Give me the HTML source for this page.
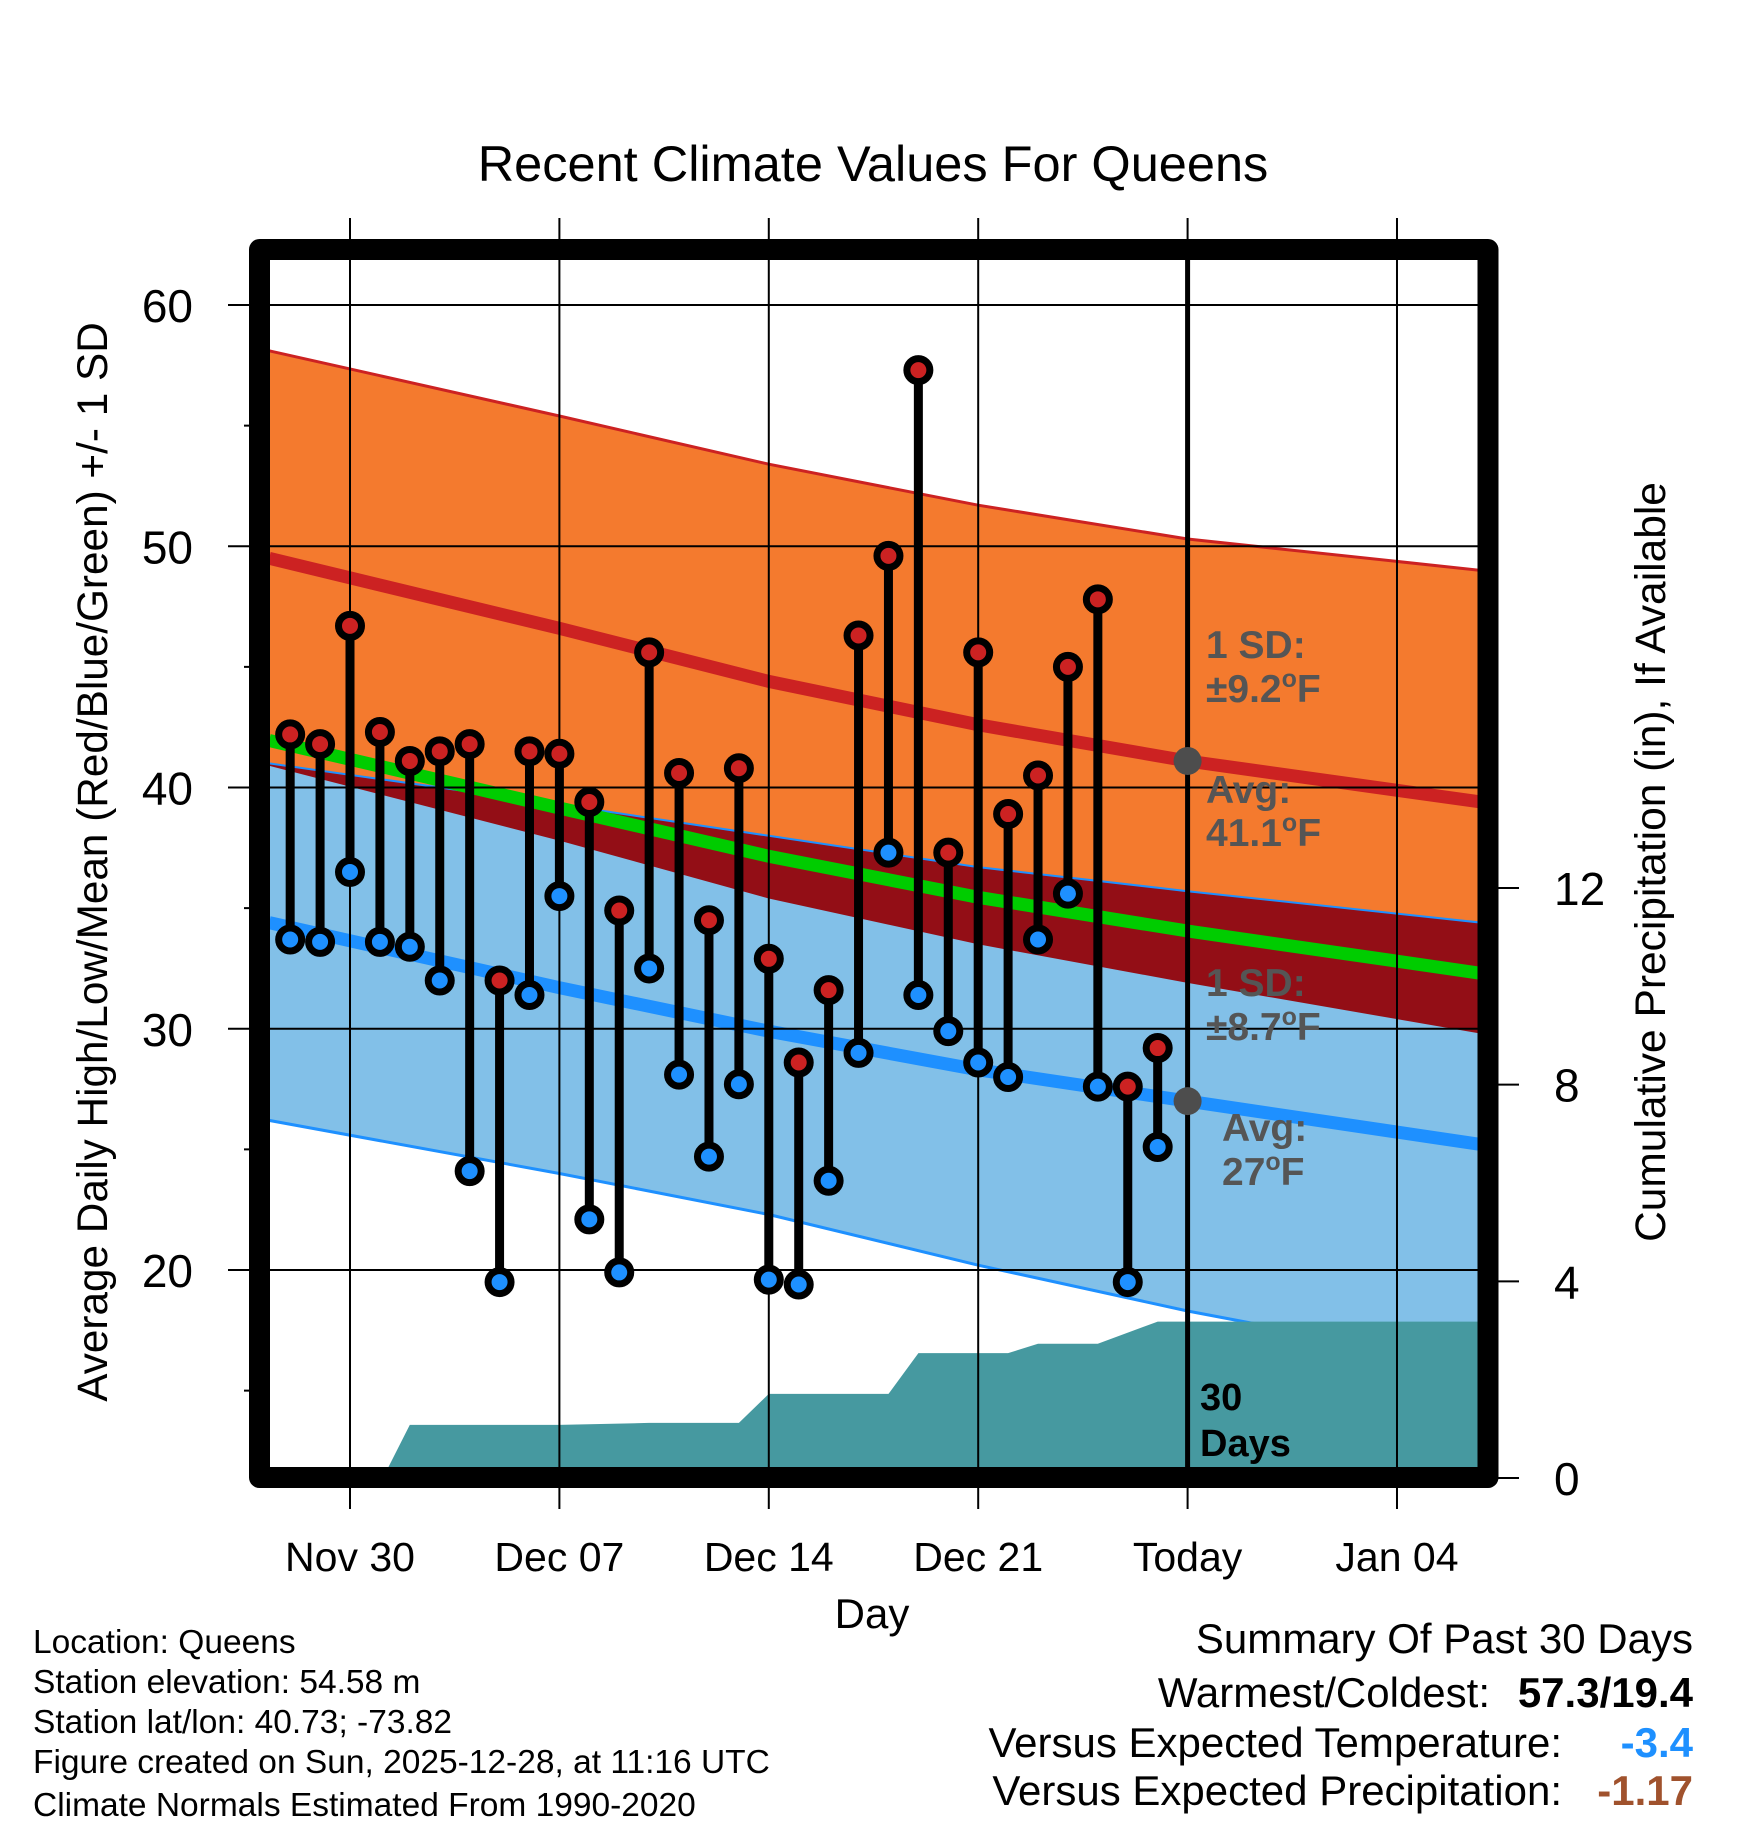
<!DOCTYPE html>
<html><head><meta charset="utf-8"><style>
html,body{margin:0;padding:0;background:#fff;}
svg{display:block;font-family:"Liberation Sans",Arial,sans-serif;}
</style></head><body>
<svg id="chart" width="1748" height="1828" viewBox="0 0 1748 1828" xmlns="http://www.w3.org/2000/svg">
<defs><clipPath id="plotclip"><rect x="270" y="260" width="1208" height="1207"/></clipPath></defs>
<g id="bands" clip-path="url(#plotclip)"></g>
<g id="grid"></g>
<g id="marks"></g>
<g id="frame"></g>
<g id="labels"></g>
</svg>
<script>
// ---- data ----
const dayLabels = ["Nov 30","Dec 07","Dec 14","Dec 21","Today","Jan 04"];
const dayLabelDays = [0,7,14,21,28,35];
const obsDays = [-2,-1,0,1,2,3,4,5,6,7,8,9,10,11,12,13,14,15,16,17,18,19,20,21,22,23,24,25,26,27];
const highs = [42.2,41.8,46.7,42.3,41.1,41.5,41.8,32.0,41.5,41.4,39.4,34.9,45.6,40.6,34.5,40.8,32.9,28.6,31.6,46.3,49.6,57.3,37.3,45.6,38.9,40.5,45.0,47.8,27.6,29.2];
const lows  = [33.7,33.6,36.5,33.6,33.4,32.0,24.1,19.5,31.4,35.5,22.1,19.9,32.5,28.1,24.7,27.7,19.6,19.4,23.7,29.0,37.3,31.4,29.9,28.6,28.0,33.7,35.6,27.6,19.5,25.1];
const normDays = [-2.7,7,14,21,28,37.8];
const hiAvg = [49.5,46.6,44.4,42.6,41.1,39.4];
const hiSD  = [8.6,8.8,9.0,9.1,9.2,9.6];
const loAvg = [34.4,31.7,29.9,28.3,27.0,25.2];
const loSD  = [8.2,7.7,7.6,8.1,8.7,9.2];
const loSDup = [6.6,7.6,8.1,8.4,8.7,9.2];
const precipDays = [-2.7,1.1,2,7,10,13,14,18,19,22,23,25,27,37.8];
const precipVals = [0,0,1.08,1.08,1.12,1.12,1.71,1.71,2.54,2.54,2.73,2.73,3.18,3.18];
const tempTicks = [20,30,40,50,60];
const tempMinor = [15,25,35,45,55];
const precipTicks = [0,4,8,12];

// ---- axes ----
const X = d => 350 + d * 29.914;
const Y = v => 305 + (60 - v) * 24.125;
const P = v => 1478 - v * 49.17;
const NS = "http://www.w3.org/2000/svg";
function mk(tag, parent, attrs){ const e=document.createElementNS(NS,tag); for(const k in attrs) e.setAttribute(k,attrs[k]); parent.appendChild(e); return e; }
const bands=document.getElementById('bands'), grid=document.getElementById('grid'), marks=document.getElementById('marks'), frame=document.getElementById('frame'), labels=document.getElementById('labels');

function line(arr){ return normDays.map((d,i)=>X(d).toFixed(1)+','+Y(arr[i]).toFixed(1)); }
function bandPts(top,bot){ return line(top).concat(line(bot).reverse()).join(' '); }
const hiUp = hiAvg.map((v,i)=>v+hiSD[i]), hiLo = hiAvg.map((v,i)=>v-hiSD[i]);
const loUp = loAvg.map((v,i)=>v+loSDup[i]), loLo = loAvg.map((v,i)=>v-loSD[i]);
const mean = hiAvg.map((v,i)=>(v+loAvg[i])/2);

let e;
e = mk('polygon',bands,{points:bandPts(hiUp,hiLo),fill:'#f47a2e'});
 
e = mk('polygon',bands,{points:bandPts(loUp,loLo),fill:'#82c0e8'});
 
e = mk('polygon',bands,{points:bandPts(loUp,hiLo),fill:'#930e16'});
 
e = mk('polyline',bands,{points:line(loUp).join(' '),fill:'none',stroke:'#1e90ff','stroke-width':2});
 
e = mk('polyline',bands,{points:line(mean).join(' '),fill:'none',stroke:'#00cc00','stroke-width':13});
 
e = mk('polyline',bands,{points:line(hiAvg).join(' '),fill:'none',stroke:'#cc2222','stroke-width':13});
 
e = mk('polyline',bands,{points:line(hiUp).join(' '),fill:'none',stroke:'#cc2222','stroke-width':3});
 
e = mk('polyline',bands,{points:line(loAvg).join(' '),fill:'none',stroke:'#1e90ff','stroke-width':13});
 
e = mk('polyline',bands,{points:line(loLo).join(' '),fill:'none',stroke:'#1e90ff','stroke-width':3});
 
// precip area
const pp = precipDays.map((d,i)=>X(d).toFixed(1)+','+P(precipVals[i]).toFixed(1));
pp.push(X(37.8)+','+1480, X(-2.7)+','+1480);
e = mk('polygon',bands,{points:pp.join(' '),fill:'#4699a0'});
 

// grid
tempTicks.forEach(v=>{
  e = mk('line',grid,{x1:228,x2:1478,y1:Y(v),y2:Y(v),stroke:'#000','stroke-width':2});
   
  e = mk('text',labels,{x:193,y:Y(v)+17,'text-anchor':'end','font-size':46,fill:'#000'});
  e.textContent=v;
   
});
tempMinor.forEach(v=>{
  e = mk('line',grid,{x1:244,x2:252,y1:Y(v),y2:Y(v),stroke:'#000','stroke-width':2});
   
});
dayLabelDays.forEach((d,i)=>{
  const today = dayLabels[i]==='Today';
  e = mk('line',grid,{x1:X(d),x2:X(d),y1:218,y2:1509,stroke:'#000','stroke-width':2});
   
  if(today){
    e = mk('line',grid,{x1:X(d),x2:X(d),y1:260,y2:1478,stroke:'#000','stroke-width':5});
     
  }
  e = mk('text',labels,{x:X(d),y:1571,'text-anchor':'middle','font-size':41,fill:'#000'});
  e.textContent=dayLabels[i];
   
});
precipTicks.forEach(v=>{
  e = mk('line',grid,{x1:1490,x2:1519,y1:P(v),y2:P(v),stroke:'#000','stroke-width':2});
   
  e = mk('text',labels,{x:1554,y:P(v)+17,'font-size':46,fill:'#000'});
  e.textContent=v;
   
});

// observations
obsDays.forEach((d,i)=>{
  e = mk('line',marks,{x1:X(d),x2:X(d),y1:Y(highs[i]),y2:Y(lows[i]),stroke:'#000','stroke-width':9});
   
  [[highs[i],'#cc2222','daily-high-marker'],[lows[i],'#1e90ff','daily-low-marker']].forEach(m=>{
    e = mk('circle',marks,{cx:X(d),cy:Y(m[0]),r:11.5,fill:m[1],stroke:'#000','stroke-width':7});
     
  });
});
e = mk('circle',marks,{cx:X(28),cy:Y(hiAvg[4]),r:14,fill:'#4d4d4d'});
 
e = mk('circle',marks,{cx:X(28),cy:Y(loAvg[4]),r:14,fill:'#4d4d4d'});
 

// frame
e = mk('rect',frame,{x:259.5,y:249.5,width:1228.5,height:1228,fill:'none',stroke:'#000','stroke-width':21,'stroke-linejoin':'round'});
 
</script>
<svg style="position:absolute;left:0;top:0" width="1748" height="1828" xmlns="http://www.w3.org/2000/svg" font-family="Liberation Sans, Arial, sans-serif">
<text x="873" y="181" text-anchor="middle" font-size="50.5">Recent Climate Values For Queens</text>
<text x="0" y="0" transform="translate(107,862) rotate(-90)" text-anchor="middle" font-size="42.3">Average Daily High/Low/Mean (Red/Blue/Green) +/- 1 SD</text>
<text x="0" y="0" transform="translate(1665,862) rotate(-90)" text-anchor="middle" font-size="42.5">Cumulative Precipitation (in), If Available</text>
<text x="872" y="1628" text-anchor="middle" font-size="42">Day</text>
<g font-size="39" font-weight="bold" fill="#555">
<text x="1206" y="658">1 SD:</text>
<text x="1206" y="702">±9.2<tspan font-size="25" dy="-15">o</tspan><tspan dy="15">F</tspan></text>
<text x="1206" y="803">Avg:</text>
<text x="1206" y="846">41.1<tspan font-size="25" dy="-15">o</tspan><tspan dy="15">F</tspan></text>
<text x="1206" y="996">1 SD:</text>
<text x="1206" y="1040">±8.7<tspan font-size="25" dy="-15">o</tspan><tspan dy="15">F</tspan></text>
<text x="1222" y="1141">Avg:</text>
<text x="1222" y="1185">27<tspan font-size="25" dy="-15">o</tspan><tspan dy="15">F</tspan></text>
</g>
<g font-size="38" font-weight="bold" fill="#000">
<text x="1200" y="1410">30</text>
<text x="1200" y="1456">Days</text>
</g>
<g font-size="33.5" fill="#000">
<text x="33" y="1653">Location: Queens</text>
<text x="33" y="1693">Station elevation: 54.58 m</text>
<text x="33" y="1733">Station lat/lon: 40.73; -73.82</text>
<text x="33" y="1773">Figure created on Sun, 2025-12-28, at 11:16 UTC</text>
<text x="33" y="1816">Climate Normals Estimated From 1990-2020</text>
</g>
<g font-size="42" fill="#000">
<text x="1693" y="1653" text-anchor="end" font-size="42">Summary Of Past 30 Days</text>
<text x="1490" y="1707" text-anchor="end">Warmest/Coldest:</text>
<text x="1693" y="1707" text-anchor="end" font-weight="bold">57.3/19.4</text>
<text x="1562" y="1757" text-anchor="end">Versus Expected Temperature:</text>
<text x="1693" y="1757" text-anchor="end" font-weight="bold" fill="#1e90ff">-3.4</text>
<text x="1562" y="1805" text-anchor="end">Versus Expected Precipitation:</text>
<text x="1693" y="1805" text-anchor="end" font-weight="bold" fill="#a0522d">-1.17</text>
</g>
</svg>
</body></html>
